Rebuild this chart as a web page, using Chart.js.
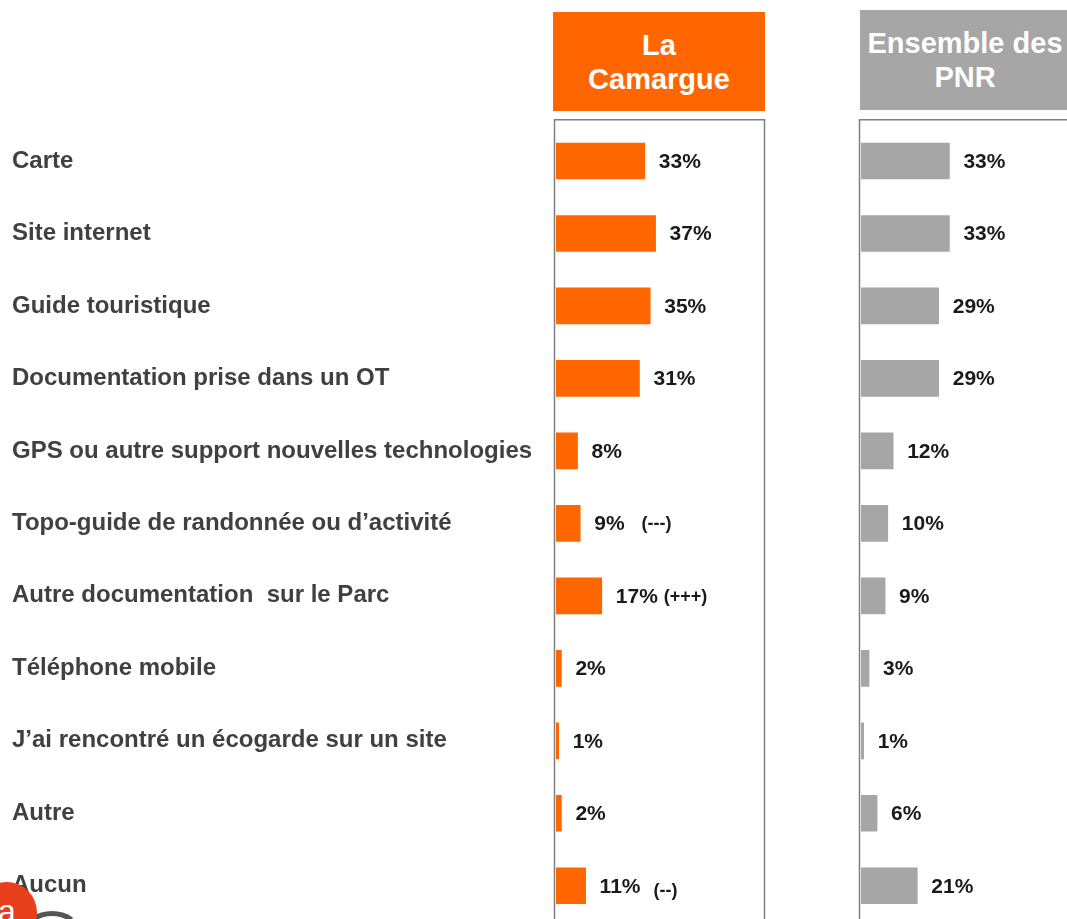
<!DOCTYPE html>
<html>
<head>
<meta charset="utf-8">
<script src="https://cdn.jsdelivr.net/npm/chart.js@4"></script>
<style>
  html, body { margin: 0; padding: 0; background: #fff; overflow: hidden; width: 1067px; height: 919px; }
  body { position: relative; font-family: Arial, "Liberation Sans", sans-serif; }
  .head { position: absolute; color: #fff; font-weight: bold; font-size: 29px; line-height: 34px;
          text-align: center; display: flex; align-items: center; justify-content: center; }
  #wrapLeft { position: absolute; left: 0; top: 100px; width: 766px; height: 840px; }
  #wrapRight { position: absolute; left: 846px; top: 100px; width: 224px; height: 840px; }
  #logo { position: absolute; left: -24px; top: 882px; width: 61px; height: 61px; border-radius: 50%; background: #e8401c; }
  #logoArc { position: absolute; left: 24px; top: 911px; width: 46px; height: 30px; border-radius: 50%; border: 5px solid #555; border-color: #555 transparent transparent transparent; }
  #logoTxt { position: absolute; left: -2px; top: 893px; color: #fff; font-size: 32px; font-weight: normal; }
</style>
</head>
<body>
<div class="head" style="left:553px; top:12px; width:212px; height:99px; background:#ff6600;">La<br>Camargue</div>
<div class="head" style="left:860px; top:10px; width:210px; height:100px; background:#a6a6a6;">Ensemble des<br>PNR</div>

<div id="wrapLeft"><canvas id="chartLeft"></canvas></div>
<div id="wrapRight"><canvas id="chartRight"></canvas></div>

<div id="logoArc"></div>
<div id="logo"></div>
<div id="logoTxt">a</div>

<script>
// Data
var categories = [
    'Carte',
    'Site internet',
    'Guide touristique',
    'Documentation prise dans un OT',
    'GPS ou autre support nouvelles technologies',
    'Topo-guide de randonnée ou d\u2019activité',
    'Autre documentation  sur le Parc',
    'Téléphone mobile',
    'J\u2019ai rencontré un écogarde sur un site',
    'Autre',
    'Aucun'
];
var camargueValues = [33, 37, 35, 31, 8, 9, 17, 2, 1, 2, 11];
var pnrValues = [33, 33, 29, 29, 12, 10, 9, 3, 1, 6, 21];
var camargueNotes = ['', '', '', '', '', '(---)', '(+++)', '', '', '', '(--)'];

// draws the box around the plot area and the % labels next to each bar
var boxAndLabels = {
    id: 'boxAndLabels',
    afterDatasetsDraw: function(chart, args, opts) {
        var ctx = chart.ctx;
        var area = chart.chartArea;
        ctx.save();
        ctx.strokeStyle = '#7f7f7f';
        ctx.lineWidth = 1.5;
        ctx.strokeRect(area.left - 1.5, area.top - 5, area.right - area.left, area.bottom - area.top + 40);

        var meta = chart.getDatasetMeta(0);
        var values = chart.data.datasets[0].data;
        meta.data.forEach(function(bar, i) {
            var txt = values[i] + '%';
            var x = bar.x + 14;
            ctx.font = 'bold 21px Arial, "Liberation Sans", sans-serif';
            ctx.fillStyle = '#1a1a1a';
            ctx.textAlign = 'left';
            ctx.textBaseline = 'middle';
            ctx.fillText(txt, x, bar.y + 1);
            var note = opts.notes ? opts.notes[i] : '';
            if (note) {
                var w = ctx.measureText(txt).width;
                ctx.font = 'bold 18px Arial, "Liberation Sans", sans-serif';
                var gap = note === '(+++)' ? 6 : (note === '(--)' ? 13 : 17);
                ctx.fillText(note, x + w + gap, bar.y + (note === '(--)' ? 5 : 1));
            }
        });
        ctx.restore();
    }
};

function makeOptions(leftPad, showLabels, notes) {
    return {
        indexAxis: 'y',
        responsive: true,
        maintainAspectRatio: false,
        animation: false,
        layout: { padding: { left: leftPad, right: 0, top: 24.75, bottom: 18 } },
        plugins: {
            legend: { display: false },
            tooltip: { enabled: false },
            boxAndLabels: { notes: notes }
        },
        scales: {
            x: {
                min: 0,
                max: 78,
                display: false
            },
            y: {
                display: showLabels,
                grid: { display: false },
                border: { display: false },
                afterFit: function(scale) {
                    if (showLabels) scale.width = 544;
                    scale.paddingTop = 0;
                    scale.paddingBottom = 0;
                },
                ticks: {
                    crossAlign: 'far',
                    padding: 12,
                    color: '#404040',
                    font: { family: 'Arial, "Liberation Sans", sans-serif', size: 24, weight: 'bold' }
                }
            }
        }
    };
}

Chart.register(boxAndLabels);

var leftChart = new Chart(document.getElementById('chartLeft').getContext('2d'), {
    type: 'bar',
    data: {
        labels: categories,
        datasets: [{
            data: camargueValues,
            backgroundColor: '#ff6600',
            barThickness: 36,
            categoryPercentage: 1
        }]
    },
    options: makeOptions(12, true, camargueNotes)
});

var rightChart = new Chart(document.getElementById('chartRight').getContext('2d'), {
    type: 'bar',
    data: {
        labels: categories,
        datasets: [{
            data: pnrValues,
            backgroundColor: '#a6a6a6',
            barThickness: 36,
            categoryPercentage: 1
        }]
    },
    options: makeOptions(15, false, null)
});
</script>
</body>
</html>
